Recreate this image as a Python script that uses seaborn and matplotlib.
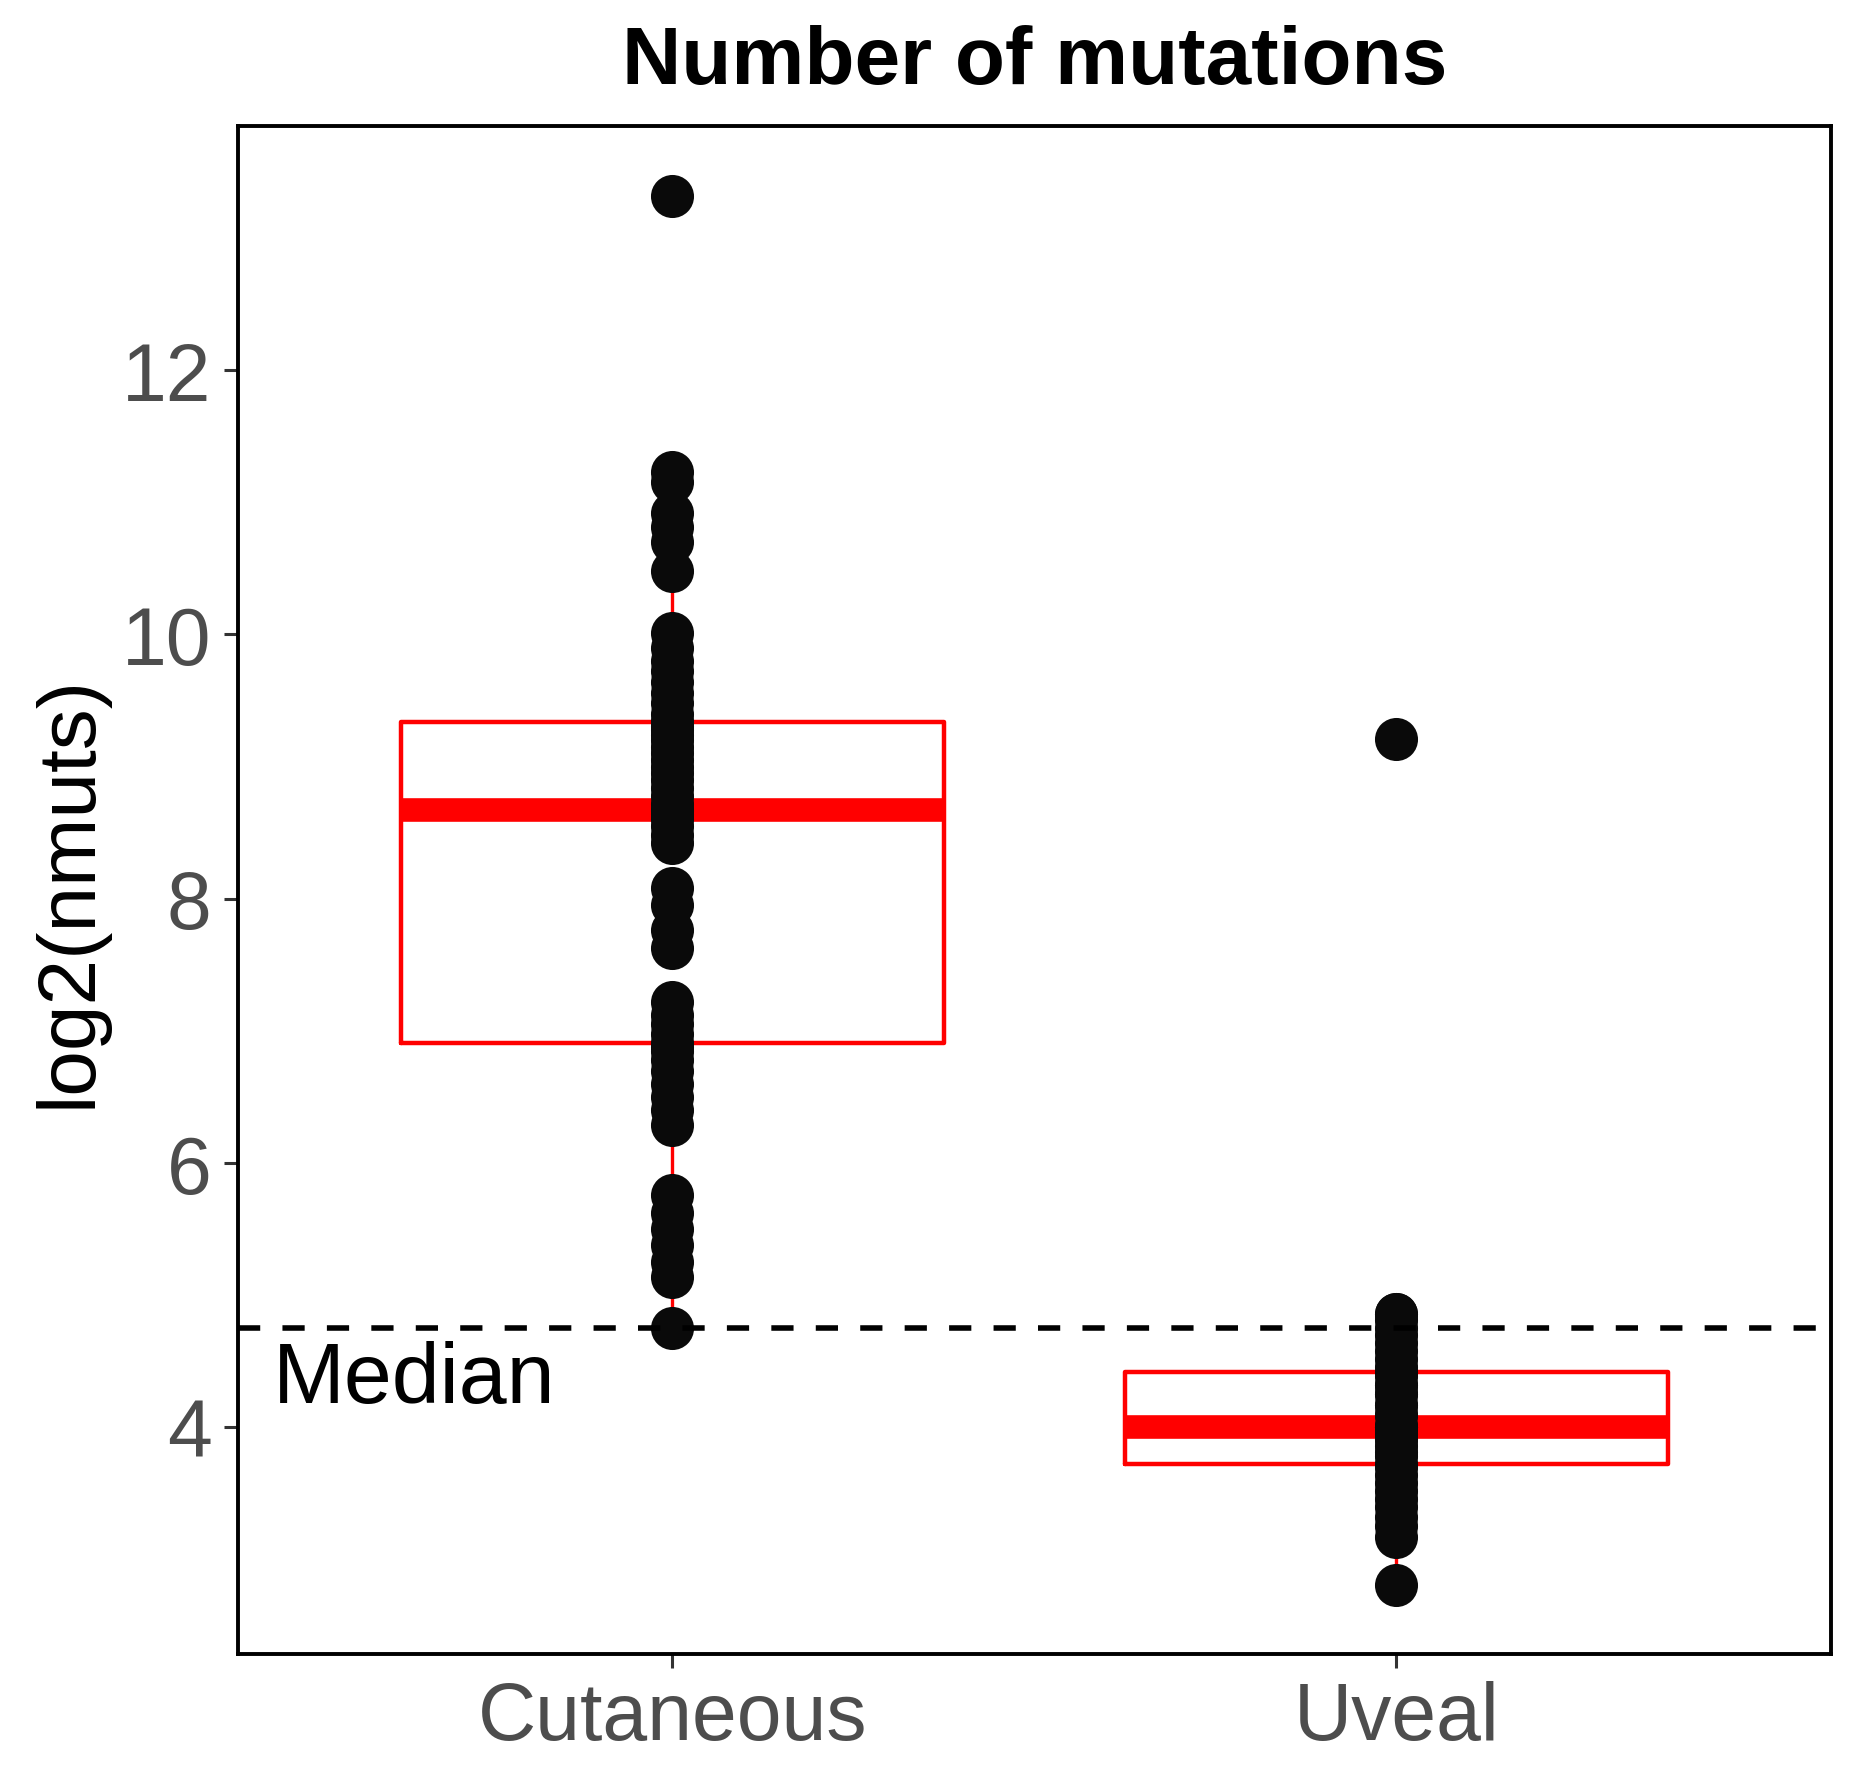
import numpy as np
import pandas as pd
import seaborn as sns
import matplotlib
matplotlib.use("Agg")
import matplotlib.pyplot as plt

# log2 mutation counts
cutaneous = [4.755, 5.14, 5.25, 5.38, 5.50, 5.62, 5.76,
             6.29, 6.40, 6.50, 6.60, 6.70, 6.78, 6.85, 6.88, 6.91,
             6.98, 7.05, 7.12, 7.22, 7.63, 7.76, 7.95, 8.08,
             8.42, 8.48, 8.55, 8.60, 8.64, 8.66, 8.67,
             8.72, 8.78, 8.84, 8.90, 8.95, 9.00, 9.05, 9.10, 9.15,
             9.20, 9.24, 9.28, 9.31, 9.33, 9.34,
             9.40, 9.48, 9.56, 9.64, 9.72, 9.80, 9.90, 10.01,
             10.48, 10.70, 10.81, 10.92, 11.15, 11.23, 13.32]
uveal = [2.81, 3.17, 3.25, 3.32, 3.40, 3.46, 3.52, 3.58, 3.64, 3.70, 3.72,
         3.78, 3.81, 3.86, 3.91, 3.91, 3.95, 4.0, 4.0, 4.0, 4.0,
         4.09, 4.09, 4.17, 4.17, 4.25, 4.25, 4.32, 4.32, 4.39, 4.42,
         4.46, 4.52, 4.58, 4.64, 4.70, 4.75, 4.81, 4.86, 4.86, 9.21]
groups = ["Cutaneous", "Uveal"]
overall_median = 4.755
yticks = [4, 6, 8, 10, 12]

df = pd.DataFrame({
    "type": ["Cutaneous"] * len(cutaneous) + ["Uveal"] * len(uveal),
    "log2": cutaneous + uveal,
})

sns.set_style("white")
plt.rcParams["font.family"] = ["Liberation Sans", "DejaVu Sans"]
plt.rcParams["text.color"] = "black"

fig = plt.figure(figsize=(18.69, 17.81), dpi=100)
ax = fig.add_axes([0.1273, 0.0707, 0.8523, 0.8579])

sns.boxplot(data=df, x="type", y="log2", order=groups, ax=ax,
            width=0.75, fill=False, color="red", linewidth=3.2,
            showfliers=False, showcaps=False,
            whiskerprops=dict(linewidth=2.4),
            medianprops=dict(linewidth=17, solid_capstyle="butt"))
sns.stripplot(data=df, x="type", y="log2", order=groups, ax=ax,
              jitter=False, color="#0a0a0a", size=31, linewidth=0, zorder=3)

ax.axhline(overall_median, color="black", lw=4, ls=(0, (4, 4)), zorder=4)
ax.text(-0.552, 4.19, "Median", fontsize=62, color="black", ha="left", va="baseline")

lo, hi = df["log2"].min(), df["log2"].max()
pad = 0.05 * (hi - lo)
ax.set_ylim(lo - pad, hi + pad)
ax.set_xlim(-0.6, 1.6)
ax.set_yticks(yticks)
ax.set_yticklabels([str(t) for t in yticks])

ax.set_title("Number of mutations", fontsize=59, fontweight="bold", color="black", pad=31)
ax.set_xlabel("")
ax.set_ylabel("log2(nmuts)", fontsize=59, color="black")
ax.yaxis.set_label_coords(-0.082, 0.5)

ax.tick_params(axis="both", labelsize=58, labelcolor="#4D4D4D", color="#333333",
               length=10, width=2.2, direction="out", pad=9, left=True, bottom=True)
for s in ax.spines.values():
    s.set_visible(True)
    s.set_color("black")
    s.set_linewidth(2.8)
ax.grid(False)

fig.savefig("out.png", dpi=100, facecolor="white")
